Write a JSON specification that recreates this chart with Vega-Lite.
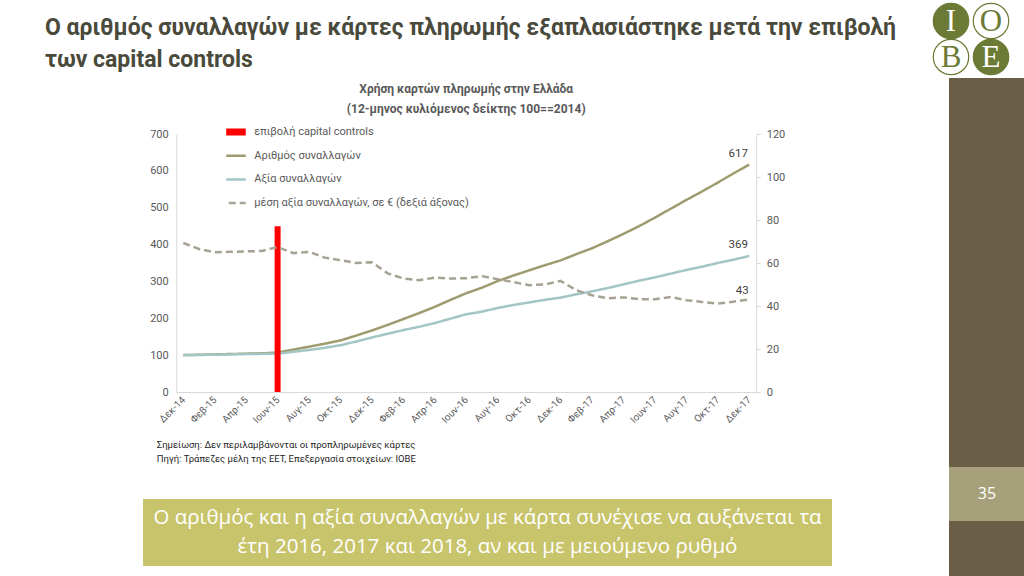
{
  "$schema": "https://vega.github.io/schema/vega-lite/v6.json",
  "background": "white",
  "padding": {"left": 45, "top": 0, "right": 0, "bottom": 0},
  "config": {
    "view": {"stroke": null},
    "font": "Roboto"
  },
  "datasets": {
    "d": [
      {"m": "Δεκ-14", "Αριθμός συναλλαγών": 100, "Αξία συναλλαγών": 100, "avg": 69.3},
      {"m": "Ιαν-15", "Αριθμός συναλλαγών": 101, "Αξία συναλλαγών": 100.5, "avg": 66.5},
      {"m": "Φεβ-15", "Αριθμός συναλλαγών": 102, "Αξία συναλλαγών": 101, "avg": 65},
      {"m": "Μαρ-15", "Αριθμός συναλλαγών": 103, "Αξία συναλλαγών": 102, "avg": 65.2},
      {"m": "Απρ-15", "Αριθμός συναλλαγών": 104, "Αξία συναλλαγών": 103, "avg": 65.4},
      {"m": "Μαΐ-15", "Αριθμός συναλλαγών": 105, "Αξία συναλλαγών": 103.5, "avg": 65.6},
      {"m": "Ιουν-15", "Αριθμός συναλλαγών": 107, "Αξία συναλλαγών": 104, "avg": 67.4},
      {"m": "Ιουλ-15", "Αριθμός συναλλαγών": 115, "Αξία συναλλαγών": 109, "avg": 64.6},
      {"m": "Αυγ-15", "Αριθμός συναλλαγών": 123, "Αξία συναλλαγών": 114, "avg": 65.2},
      {"m": "Σεπ-15", "Αριθμός συναλλαγών": 131, "Αξία συναλλαγών": 120, "avg": 62.5},
      {"m": "Οκτ-15", "Αριθμός συναλλαγών": 140, "Αξία συναλλαγών": 127, "avg": 61.3},
      {"m": "Νοε-15", "Αριθμός συναλλαγών": 153, "Αξία συναλλαγών": 137, "avg": 60},
      {"m": "Δεκ-15", "Αριθμός συναλλαγών": 167, "Αξία συναλλαγών": 148, "avg": 60.3},
      {"m": "Ιαν-16", "Αριθμός συναλλαγών": 182, "Αξία συναλλαγών": 158, "avg": 55.2},
      {"m": "Φεβ-16", "Αριθμός συναλλαγών": 198, "Αξία συναλλαγών": 168, "avg": 52.8},
      {"m": "Μαρ-16", "Αριθμός συναλλαγών": 214, "Αξία συναλλαγών": 177, "avg": 52},
      {"m": "Απρ-16", "Αριθμός συναλλαγών": 231, "Αξία συναλλαγών": 187, "avg": 53.2},
      {"m": "Μαΐ-16", "Αριθμός συναλλαγών": 250, "Αξία συναλλαγών": 199, "avg": 52.8},
      {"m": "Ιουν-16", "Αριθμός συναλλαγών": 268, "Αξία συναλλαγών": 211, "avg": 52.9},
      {"m": "Ιουλ-16", "Αριθμός συναλλαγών": 283, "Αξία συναλλαγών": 218, "avg": 53.9},
      {"m": "Αυγ-16", "Αριθμός συναλλαγών": 301, "Αξία συναλλαγών": 228, "avg": 52.5},
      {"m": "Σεπ-16", "Αριθμός συναλλαγών": 316, "Αξία συναλλαγών": 236, "avg": 51.1},
      {"m": "Οκτ-16", "Αριθμός συναλλαγών": 330, "Αξία συναλλαγών": 243, "avg": 49.7},
      {"m": "Νοε-16", "Αριθμός συναλλαγών": 344, "Αξία συναλλαγών": 250, "avg": 50},
      {"m": "Δεκ-16", "Αριθμός συναλλαγών": 357, "Αξία συναλλαγών": 256, "avg": 51.7},
      {"m": "Ιαν-17", "Αριθμός συναλλαγών": 374, "Αξία συναλλαγών": 265, "avg": 47.3},
      {"m": "Φεβ-17", "Αριθμός συναλλαγών": 390, "Αξία συναλλαγών": 273, "avg": 45},
      {"m": "Μαρ-17", "Αριθμός συναλλαγών": 409, "Αξία συναλλαγών": 282, "avg": 43.6},
      {"m": "Απρ-17", "Αριθμός συναλλαγών": 429, "Αξία συναλλαγών": 292, "avg": 44},
      {"m": "Μαΐ-17", "Αριθμός συναλλαγών": 450, "Αξία συναλλαγών": 302, "avg": 43.2},
      {"m": "Ιουν-17", "Αριθμός συναλλαγών": 473, "Αξία συναλλαγών": 311, "avg": 43.1},
      {"m": "Ιουλ-17", "Αριθμός συναλλαγών": 497, "Αξία συναλλαγών": 321, "avg": 44.2},
      {"m": "Αυγ-17", "Αριθμός συναλλαγών": 521, "Αξία συναλλαγών": 331, "avg": 42.7},
      {"m": "Σεπ-17", "Αριθμός συναλλαγών": 544, "Αξία συναλλαγών": 340, "avg": 41.9},
      {"m": "Οκτ-17", "Αριθμός συναλλαγών": 568, "Αξία συναλλαγών": 350, "avg": 41.1},
      {"m": "Νοε-17", "Αριθμός συναλλαγών": 593, "Αξία συναλλαγών": 359, "avg": 42},
      {"m": "Δεκ-17", "Αριθμός συναλλαγών": 617, "Αξία συναλλαγών": 369, "avg": 43}
    ],
    "r": [{"m": "Ιουν-15", "value": 450}],
    "box": [{"t": "Ο αριθμός και η αξία συναλλαγών με κάρτα συνέχισε να αυξάνεται τα\nέτη 2016, 2017 και 2018, αν και με μειούμενο ρυθμό"}],
    "logo": [
      {"c": "L", "r": "T", "l": "I", "f": "filled"},
      {"c": "R", "r": "T", "l": "O", "f": "open"},
      {"c": "L", "r": "B", "l": "B", "f": "open"},
      {"c": "R", "r": "B", "l": "E", "f": "filled"}
    ],
    "page": [{"t": "35"}],
    "blank": [{"t": ""}]
  },
  "spacing": 0,
  "resolve": {"scale": {"color": "independent", "strokeDash": "independent"}},
  "hconcat": [
    {
      "spacing": 0,
      "center": true,
      "resolve": {"scale": {"color": "independent", "strokeDash": "independent"}},
      "vconcat": [
        {
          "width": 885,
          "height": 1,
          "title": {
            "text": " ",
            "fontSize": 8,
            "subtitle": ["Ο αριθμός συναλλαγών με κάρτες πληρωμής εξαπλασιάστηκε μετά την επιβολή", "των capital controls"],
            "subtitleFontSize": 23,
            "subtitleFontWeight": "bold",
            "subtitleColor": "#4a4a3c",
            "subtitleLineHeight": 32,
            "subtitlePadding": 8,
            "subtitleFont": "Roboto",
            "anchor": "start",
            "frame": "group",
            "offset": 0
          },
          "data": {"name": "blank"},
          "mark": {"type": "text"},
          "encoding": {"text": {"field": "t"}}
        },
        {
          "width": 580,
          "height": 258,
          "title": {
            "text": ["Χρήση καρτών πληρωμής στην Ελλάδα", "(12-μηνος κυλιόμενος δείκτης 100==2014)"],
            "anchor": "middle",
            "frame": "group",
            "fontSize": 12,
            "fontWeight": "bold",
            "color": "#595959",
            "lineHeight": 20,
            "offset": 8
          },
          "data": {"name": "d"},
          "encoding": {
            "x": {
              "field": "m",
              "type": "ordinal",
              "sort": null,
              "scale": {
                "type": "point",
                "padding": 0.45,
                "domain": ["Δεκ-14","Ιαν-15","Φεβ-15","Μαρ-15","Απρ-15","Μαΐ-15","Ιουν-15","Ιουλ-15","Αυγ-15","Σεπ-15","Οκτ-15","Νοε-15","Δεκ-15","Ιαν-16","Φεβ-16","Μαρ-16","Απρ-16","Μαΐ-16","Ιουν-16","Ιουλ-16","Αυγ-16","Σεπ-16","Οκτ-16","Νοε-16","Δεκ-16","Ιαν-17","Φεβ-17","Μαρ-17","Απρ-17","Μαΐ-17","Ιουν-17","Ιουλ-17","Αυγ-17","Σεπ-17","Οκτ-17","Νοε-17","Δεκ-17"]
              },
              "axis": {
                "values": ["Δεκ-14","Φεβ-15","Απρ-15","Ιουν-15","Αυγ-15","Οκτ-15","Δεκ-15","Φεβ-16","Απρ-16","Ιουν-16","Αυγ-16","Οκτ-16","Δεκ-16","Φεβ-17","Απρ-17","Ιουν-17","Αυγ-17","Οκτ-17","Δεκ-17"],
                "labelAngle": -45,
                "labelAlign": "right",
                "labelBaseline": "middle",
                "labelFontSize": 10,
                "labelColor": "#595959",
                "labelPadding": 6,
                "ticks": false,
                "grid": false,
                "domainColor": "#d9d9d9",
                "title": ["Σημείωση: Δεν περιλαμβάνονται οι προπληρωμένες κάρτες", "Πηγή: Τράπεζες μέλη της ΕΕΤ, Επεξεργασία στοιχείων: ΙΟΒΕ", " ", " "],
                "titleX": -20,
                "titleY": 47,
                "titleAlign": "left",
                "titleAnchor": "start",
                "titleBaseline": "top",
                "titleFontSize": 9.5,
                "titleFontWeight": "normal",
                "titleColor": "#262626",
                "titleLineHeight": 14
              }
            }
          },
          "layer": [
            {
              "encoding": {
                "y": {
                  "field": "value",
                  "type": "quantitative",
                  "title": null,
                  "scale": {"domain": [0, 700]},
                  "axis": {
                    "orient": "left",
                    "values": [0, 100, 200, 300, 400, 500, 600, 700],
                    "labelColor": "#595959",
                    "labelFontSize": 11,
                    "labelPadding": 8,
                    "ticks": false,
                    "grid": false,
                    "domainColor": "#d9d9d9"
                  }
                }
              },
              "layer": [
                {
                  "transform": [{"fold": ["Αριθμός συναλλαγών", "Αξία συναλλαγών"], "as": ["series", "value"]}],
                  "mark": {"type": "line", "strokeWidth": 2.5},
                  "encoding": {
                    "color": {
                      "field": "series",
                      "type": "nominal",
                      "scale": {
                        "domain": ["επιβολή capital controls", "Αριθμός συναλλαγών", "Αξία συναλλαγών", "μέση αξία συναλλαγών, σε € (δεξιά άξονας)"],
                        "range": ["#ff0000", "#9e9c6f", "#a3c5c5", "#a7a293"]
                      },
                      "legend": {
                        "title": null,
                        "orient": "none",
                        "legendX": 50,
                        "legendY": -10,
                        "padding": 0,
                        "symbolType": "stroke",
                        "symbolSize": 784,
                        "symbolStrokeWidth": 2.5,
                        "labelFontSize": 11,
                        "labelColor": "#595959",
                        "labelOffset": 17,
                        "labelLimit": 400,
                        "rowPadding": 7.7,
                        "clipHeight": 16,
                        "encode": {"symbols": {"update": {"strokeWidth": {"signal": "datum.value === 'επιβολή capital controls' ? 7 : 2.5"}}}}
                      }
                    },
                    "strokeDash": {
                      "field": "series",
                      "type": "nominal",
                      "scale": {
                        "domain": ["επιβολή capital controls", "Αριθμός συναλλαγών", "Αξία συναλλαγών", "μέση αξία συναλλαγών, σε € (δεξιά άξονας)"],
                        "range": [[1, 0], [1, 0], [1, 0], [7, 4]]
                      },
                      "legend": {
                        "title": null,
                        "orient": "none",
                        "legendX": 50,
                        "legendY": -10,
                        "padding": 0,
                        "symbolType": "stroke",
                        "symbolSize": 784,
                        "symbolStrokeWidth": 2.5,
                        "labelFontSize": 11,
                        "labelColor": "#595959",
                        "labelOffset": 17,
                        "labelLimit": 400,
                        "rowPadding": 7.7,
                        "clipHeight": 16,
                        "encode": {"symbols": {"update": {"strokeWidth": {"signal": "datum.value === 'επιβολή capital controls' ? 7 : 2.5"}}}}
                      }
                    }
                  }
                },
                {
                  "data": {"name": "r"},
                  "mark": {"type": "rule", "strokeWidth": 6},
                  "encoding": {
                    "y2": {"datum": 0},
                    "color": {"datum": "επιβολή capital controls"},
                    "strokeDash": {"datum": "επιβολή capital controls"}
                  }
                },
                {
                  "transform": [
                    {"fold": ["Αριθμός συναλλαγών", "Αξία συναλλαγών"], "as": ["series", "value"]},
                    {"filter": "datum.m === 'Δεκ-17'"}
                  ],
                  "mark": {"type": "text", "dx": -11, "dy": -11, "fontSize": 11.5, "color": "#404040"},
                  "encoding": {
                    "text": {"field": "value", "type": "quantitative"}
                  }
                }
              ]
            },
            {
              "encoding": {
                "y": {
                  "field": "avg",
                  "type": "quantitative",
                  "scale": {"domain": [0, 120]},
                  "axis": {
                    "orient": "right",
                    "values": [0, 20, 40, 60, 80, 100, 120],
                    "labelColor": "#595959",
                    "labelFontSize": 11,
                    "labelPadding": 6,
                    "ticks": true,
                    "tickSize": 4,
                    "tickColor": "#d9d9d9",
                    "grid": false,
                    "domainColor": "#d9d9d9",
                    "title": "\u00a0",
                    "titleFontSize": 10,
                    "titlePadding": 4
                  }
                }
              },
              "layer": [
                {
                  "mark": {"type": "line", "strokeWidth": 2.5},
                  "encoding": {
                    "color": {"datum": "μέση αξία συναλλαγών, σε € (δεξιά άξονας)"},
                    "strokeDash": {"datum": "μέση αξία συναλλαγών, σε € (δεξιά άξονας)"}
                  }
                },
                {
                  "transform": [{"filter": "datum.m === 'Δεκ-17'"}],
                  "mark": {"type": "text", "dx": -7, "dy": -9, "fontSize": 11.5, "color": "#404040"},
                  "encoding": {
                    "text": {"field": "avg", "type": "quantitative"}
                  }
                }
              ]
            }
          ],
          "resolve": {"scale": {"y": "independent"}}
        },
        {
          "width": 689,
          "height": 67,
          "title": {"text": " ", "fontSize": 4, "offset": 4},
          "view": {"fill": "#c8c46b", "stroke": null},
          "data": {"name": "box"},
          "mark": {"type": "text", "color": "white", "fontSize": 20.5, "font": "Open Sans", "lineBreak": "\n", "lineHeight": 29, "baseline": "middle", "dy": -14.5},
          "encoding": {"text": {"field": "t"}}
        }
      ]
    },
    {
      "spacing": 0,
      "vconcat": [
        {
          "width": 76,
          "height": 1,
          "data": {"name": "logo"},
          "encoding": {
            "x": {"field": "c", "type": "nominal", "scale": {"type": "point", "padding": 0, "domain": ["L", "R"], "range": [2, 42]}, "axis": null},
            "y": {"field": "r", "type": "nominal", "scale": {"type": "point", "padding": 0, "domain": ["T", "B"], "range": [-56, -20]}, "axis": null}
          },
          "layer": [
            {
              "transform": [{"filter": "datum.f === 'filled'"}],
              "mark": {"type": "point", "shape": "circle", "filled": true, "size": 1256, "color": "#6b7a34", "stroke": "#6b7a34", "strokeWidth": 1.2, "opacity": 1, "clip": false}
            },
            {
              "transform": [{"filter": "datum.f === 'open'"}],
              "mark": {"type": "point", "shape": "circle", "filled": false, "size": 1256, "color": "#6b7a34", "strokeWidth": 1.2, "opacity": 1, "clip": false}
            },
            {
              "transform": [{"filter": "datum.f === 'filled'"}],
              "mark": {"type": "text", "font": "Liberation Serif", "fontSize": 31, "baseline": "middle", "dy": 1, "color": "#ffffff", "clip": false},
              "encoding": {"text": {"field": "l"}}
            },
            {
              "transform": [{"filter": "datum.f === 'open'"}],
              "mark": {"type": "text", "font": "Liberation Serif", "fontSize": 31, "baseline": "middle", "dy": 1, "color": "#6b7a34", "clip": false},
              "encoding": {"text": {"field": "l"}}
            }
          ]
        },
        {
          "width": 76,
          "height": 389,
          "view": {"fill": "#6a5f46", "stroke": null},
          "data": {"name": "blank"},
          "mark": {"type": "text"},
          "encoding": {"text": {"field": "t"}}
        },
        {
          "width": 76,
          "height": 54,
          "view": {"fill": "#a6a17a", "stroke": null},
          "data": {"name": "page"},
          "mark": {"type": "text", "color": "white", "fontSize": 16, "font": "Open Sans", "baseline": "middle"},
          "encoding": {"text": {"field": "t"}}
        },
        {
          "width": 76,
          "height": 56,
          "view": {"fill": "#6a5f46", "stroke": null},
          "data": {"name": "blank"},
          "mark": {"type": "text"},
          "encoding": {"text": {"field": "t"}}
        }
      ]
    }
  ]
}
